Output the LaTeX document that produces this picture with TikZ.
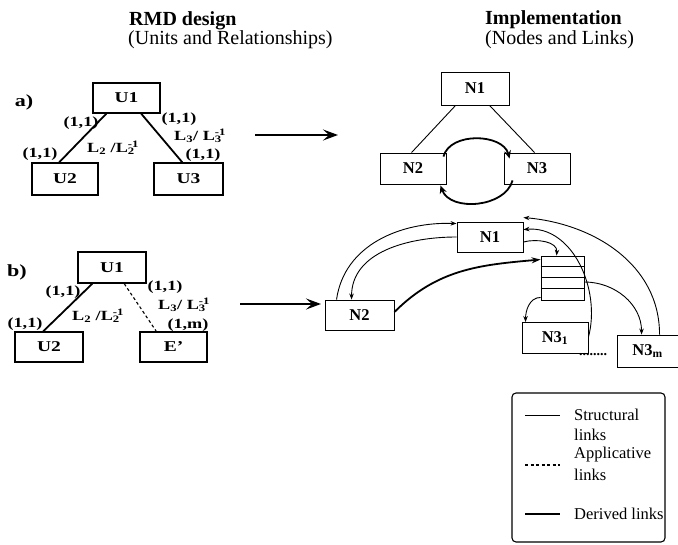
\documentclass[tikz,border=0pt]{standalone}
\usepackage{fontspec}
\setmainfont{Liberation Serif}
\newfontfamily\widefont[FakeStretch=1.3]{Liberation Serif}
\usetikzlibrary{arrows.meta}

\begin{document}
\begin{tikzpicture}[x=1pt,y=-1pt,
  ubox/.style={draw,line width=1.5pt,inner sep=0pt,
    font=\widefont\bfseries\fontsize{15}{17}\selectfont},
  nbox/.style={draw,line width=0.9pt,inner sep=0pt,
    font=\bfseries\fontsize{16.5}{19}\selectfont},
  card/.style={inner sep=0pt,font=\widefont\bfseries\fontsize{14}{16}\selectfont},
  caselabel/.style={inner sep=0pt,font=\widefont\bfseries\fontsize{17}{19}\selectfont},
  title/.style={anchor=west,inner sep=0pt,font=\bfseries\fontsize{20}{24}\selectfont},
  subtitle/.style={anchor=west,inner sep=0pt,font=\fontsize{20}{24}\selectfont},
  legtext/.style={anchor=west,inner sep=0pt,font=\fontsize{16.5}{20}\selectfont},
  strong/.style={line width=1.8pt},
  thin/.style={line width=0.9pt},
  bigarrow/.style={line width=2.8pt,-{Stealth[length=15pt,width=11pt,inset=6pt]}},
  darrow/.style={line width=1.8pt,-{Stealth[length=8pt,width=7pt]}},
  sarrow/.style={line width=0.9pt,-{Stealth[length=6pt,width=4.5pt]}},
  applicative/.style={line width=1.1pt,dash pattern=on 3pt off 2.5pt}
]
\useasboundingbox (0,0) rectangle (678,545);

% column headings
\node[title]    (h1) at (129,21) {RMD design};
\node[subtitle] (h2) at (128,40) {(Units and Relationships)};
\node[title]    (h3) at (485,20) {Implementation};
\node[subtitle] (h4) at (485,40) {(Nodes and Links)};

% ---------- case a) ----------
\node[caselabel] (la) at (24,102) {a)};
\node[ubox,minimum width=67pt,minimum height=30pt] (U1a) at (126.5,98) {U1};
\node[ubox,minimum width=66pt,minimum height=32pt] (U2a) at (65,179) {U2};
\node[ubox,minimum width=69pt,minimum height=32pt] (U3a) at (188.5,179) {U3};
\draw[strong] ([xshift=14pt]U1a.south west) -- ([xshift=28pt]U2a.north west);
\draw[strong] ([xshift=49pt]U1a.south west) -- ([xshift=29pt]U3a.north west);
\node[card] (ca1) at (81,123) {(1,1)};
\node[card] (ca2) at (40,154) {(1,1)};
\node[card] (ca3) at (111,148) {L\textsubscript{2} /L\rlap{\textsuperscript{-1}}\textsubscript{2}};
\node[card] (ca4) at (179,119) {(1,1)};
\node[card] (ca5) at (198,136) {L\textsubscript{3}/ L\rlap{\textsuperscript{-1}}\textsubscript{3}};
\node[card] (ca6) at (203,155) {(1,1)};

\coordinate (aa1) at (255,135);
\coordinate (aa2) at (338,135);
\draw[bigarrow] (aa1) -- (aa2);

\node[nbox,minimum width=68pt,minimum height=33pt] (N1a) at (475,88.5) {N1};
\node[nbox,minimum width=66pt,minimum height=31pt] (N2a) at (413,168.5) {N2};
\node[nbox,minimum width=66pt,minimum height=31pt] (N3a) at (537,168.5) {N3};
\draw[thin] ([xshift=15pt]N1a.south west) -- ([xshift=32pt]N2a.north west);
\draw[thin] ([xshift=49pt]N1a.south west) -- ([xshift=31pt]N3a.north west);
\draw[darrow] ([xshift=-3pt,yshift=-4pt]N2a.north east) to[out=75,in=105] ([xshift=6pt,yshift=-6pt]N3a.north west);
\draw[darrow] ([xshift=9pt,yshift=4pt]N3a.south west) to[out=-105,in=-70] ([xshift=-6pt,yshift=-1pt]N2a.south east);

% ---------- case b) ----------
\node[caselabel] (lb) at (17,272) {b)};
\node[ubox,minimum width=68pt,minimum height=31pt] (U1b) at (112,267.5) {U1};
\node[ubox,minimum width=68pt,minimum height=30pt] (U2b) at (49,347) {U2};
\node[ubox,minimum width=67pt,minimum height=30pt] (Eb) at (173.5,347) {E’};
\draw[strong] ([xshift=15pt]U1b.south west) -- ([xshift=29pt]U2b.north west);
\draw[applicative] ([xshift=47pt]U1b.south west) -- ([xshift=17pt]Eb.north west);
\node[card] (cb1) at (63,292) {(1,1)};
\node[card] (cb2) at (25,324) {(1,1)};
\node[card] (cb3) at (96,316) {L\textsubscript{2} /L\rlap{\textsuperscript{-1}}\textsubscript{2}};
\node[card] (cb4) at (165,287) {(1,1)};
\node[card] (cb5) at (182,305) {L\textsubscript{3}/ L\rlap{\textsuperscript{-1}}\textsubscript{3}};
\node[card] (cb6) at (188,325) {(1,m)};

\coordinate (ab1) at (240,304);
\coordinate (ab2) at (321,304);
\draw[bigarrow] (ab1) -- (ab2);

\node[nbox,minimum width=66pt,minimum height=30pt] (N1b) at (490,237) {N1};
\node[nbox,minimum width=69pt,minimum height=30pt] (N2b) at (359.5,315) {N2};
\node[nbox,minimum width=66pt,minimum height=31pt] (N31) at (555,338) {N3\textsubscript{1}};
\node[nbox,minimum width=61pt,minimum height=32pt] (N3m) at (647.5,351) {N3\textsubscript{m}};
\node[inner sep=0pt,font=\bfseries\fontsize{14}{16}\selectfont] (dots) at (593,355) {........};

% list of N3 instances
\node[draw,line width=0.9pt,minimum width=43pt,minimum height=44pt,inner sep=0pt] (stack) at (562.5,278) {};
\foreach \k in {1,2,3}
  \draw[thin] ([yshift=-11*\k pt]stack.north west) -- ([yshift=-11*\k pt]stack.north east);

\draw[sarrow] ([xshift=12pt]N2b.north west) to[out=82,in=178] ([yshift=-2pt]N1b.north west);
\draw[sarrow] (N1b.west) to[out=180,in=90] ([xshift=27pt]N2b.north west);
\draw[line width=1.8pt,-{Stealth[length=9pt,width=6pt]}] ([yshift=3pt]N2b.east) to[out=45,in=185] ([yshift=-4pt]stack.north west);
\draw[sarrow] ([yshift=-5pt]N1b.east) to[out=15,in=85] ([xshift=16pt]stack.north west);
\draw[sarrow] ([yshift=-15pt]N31.north east) to[out=75,in=5] ([yshift=-8pt]N1b.north east);
\draw[sarrow] ([xshift=43pt]N3m.north west) to[out=90,in=-5] ([yshift=4pt]N1b.north east);
\draw[sarrow] ([yshift=3pt]stack.south west) to[out=180,in=90] ([xshift=4pt]N31.north west);
\draw[sarrow] ([yshift=-4pt]stack.east) to[out=0,in=90] ([xshift=25pt]N3m.north west);

% ---------- legend ----------
\node[draw,line width=1.1pt,rounded corners=4pt,minimum width=153pt,minimum height=149pt] (legend) at (588.5,467.5) {};
\coordinate (s1) at (525,415);
\coordinate (s2) at (560,415);
\coordinate (p1) at (525,465);
\coordinate (p2) at (560,465);
\coordinate (d1) at (525,514);
\coordinate (d2) at (560,514);
\draw[thin] (s1) -- (s2);
\draw[applicative] (p1) -- (p2);
\draw[strong] (d1) -- (d2);
\node[legtext] (t1) at (574,415) {Structural};
\node[legtext] (t2) at (574,435) {links};
\node[legtext] (t3) at (574,455) {Applicative};
\node[legtext] (t4) at (574,475) {links};
\node[legtext] (t5) at (574,514) {Derived links};
\end{tikzpicture}
\end{document}
